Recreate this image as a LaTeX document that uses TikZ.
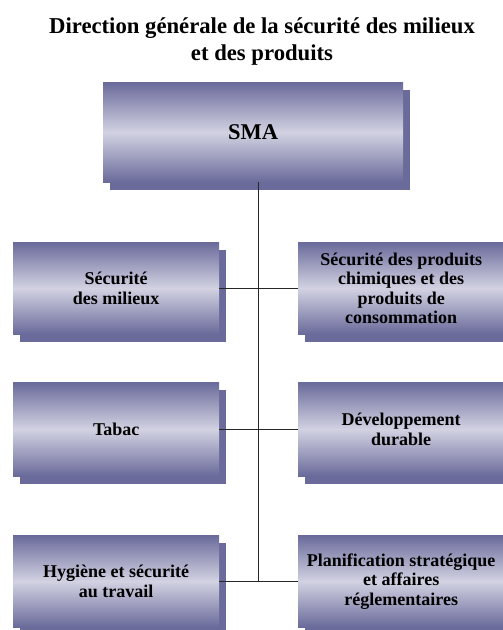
\documentclass[tikz,border=0pt]{standalone}
\usepackage{fontspec}
\setmainfont{Liberation Serif}
\usetikzlibrary{shadows}
\definecolor{boxdark}{RGB}{106,106,155}
\definecolor{boxlight}{RGB}{210,210,226}
\begin{document}
\begin{tikzpicture}[x=1pt,y=-1pt,
  unitbox/.style={draw=none, anchor=north west, inner sep=0pt,
    top color=boxdark, bottom color=boxdark, middle color=boxlight,
    align=center, font=\bfseries\fontsize{18}{19.5}\selectfont,
    drop shadow={shadow xshift=7pt, shadow yshift=-8pt, fill=boxdark, opacity=1}},
  rowbox/.style={unitbox, minimum width=206pt, minimum height=92pt},
  titletext/.style={anchor=base, font=\bfseries\fontsize{22.7}{26}\selectfont},
  link/.style={draw=black!85, line width=0.8pt}]
  \path[use as bounding box] (0,0) rectangle (503,630);
  \clip (0,0) rectangle (503,630);

  % heading
  \node[titletext] (title1) at (262,33) {Direction générale de la sécurité des milieux};
  \node[titletext] (title2) at (262,60) {et des produits};

  % head unit
  \node[unitbox, minimum width=300pt, minimum height=100pt,
        font=\bfseries\fontsize{22.5}{24}\selectfont] (sma) at (103,82) {SMA};

  % left column
  \node[rowbox] (l1) at (13,242) {Sécurité\\des milieux};
  \node[rowbox, minimum height=94pt] (l2) at (13,382) {Tabac};
  \node[rowbox] (l3) at (13,535) {Hygiène et sécurité\\au travail};

  % right column
  \node[rowbox] (r1) at (298,242) {Sécurité des produits\\chimiques et des\\produits de\\consommation};
  \node[rowbox, minimum height=94pt] (r2) at (298,382) {Développement\\durable};
  \node[rowbox] (r3) at (298,535) {Planification stratégique\\et affaires\\réglementaires};

  % connectors
  \coordinate (trunk) at (258,0);
  \draw[link] (sma.south -| trunk) -- (l3.east -| trunk);
  \draw[link] (l1.east) -- (r1.west);
  \draw[link] (l2.east) -- (r2.west);
  \draw[link] (l3.east) -- (r3.west);
\end{tikzpicture}
\end{document}
